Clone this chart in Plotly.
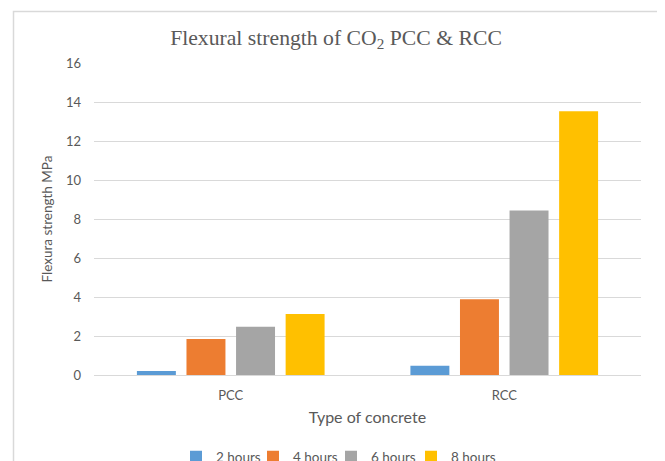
import plotly.graph_objects as go

categories = ["PCC", "RCC"]
series_names = ["2 hours", "4 hours", "6 hours", "8 hours"]
values_2h = [0.21, 0.48]
values_4h = [1.85, 3.89]
values_6h = [2.47, 8.43]
values_8h = [3.13, 13.52]
colors = ["#5B9BD5", "#ED7D31", "#A5A5A5", "#FFC000"]
y_ticks = [0, 2, 4, 6, 8, 10, 12, 14, 16]

# page has an 8px body margin; figure sized to fit the 665x461 window
OFF = 8
W, H = 665 - OFF, 461 - OFF
# plot area in screen pixels: x 94..641, y 63..375
SX0, SX1, SY0, SY1 = 94, 641, 63, 375
L, R, T, B = SX0 - OFF, (W + OFF) - SX1, SY0 - OFF, (H + OFF) - SY1
pw, ph = SX1 - SX0, SY1 - SY0

def px_x(p):
    return (p - SX0) / pw

def px_y(p):
    return (SY1 - p) / ph

font_family = "Lato"
legend_square_px = [190, 267, 345, 425]
legend_ids = ["legend", "legend2", "legend3", "legend4"]

fig = go.Figure()
for name, vals, col, lid in zip(series_names, [values_2h, values_4h, values_6h, values_8h], colors, legend_ids):
    fig.add_trace(go.Bar(x=categories, y=vals, name=name, legend=lid,
                         marker=dict(color=col, line=dict(width=0))))

fig.add_shape(type="rect", xref="paper", yref="paper",
              x0=px_x(13.5), x1=px_x(659.5), y0=px_y(480), y1=px_y(11.5),
              line=dict(color="#D9D9D9", width=1.5), fillcolor="rgba(0,0,0,0)", layer="below")

legend_layout = {}
for lid, sq in zip(legend_ids, legend_square_px):
    legend_layout[lid] = dict(orientation="h", x=px_x(sq - 14), xanchor="left", y=px_y(457), yanchor="middle",
                              font=dict(family=font_family, size=13.5, color="#595959"),
                              itemwidth=30, bgcolor="rgba(0,0,0,0)")

fig.update_layout(
    width=W, height=H,
    margin=dict(l=L, r=R, t=T, b=B, autoexpand=False),
    paper_bgcolor="white", plot_bgcolor="white",
    barmode="group", bargap=0.275, bargroupgap=0.214,
    title=dict(text="Flexural strength of CO<sub>2</sub> PCC &amp; RCC",
               font=dict(family="Liberation Serif", size=21.7, color="#595959"),
               x=(336 - OFF) / W, xanchor="center", y=1 - (37 - OFF) / H, yanchor="middle"),
    xaxis=dict(title=dict(text="Type of concrete", font=dict(family=font_family, size=16, color="#595959"), standoff=10),
               tickfont=dict(family=font_family, size=13, color="#595959"),
               showgrid=False, showline=True, linecolor="#D9D9D9", linewidth=1, ticks="",
               ticklabelstandoff=8, automargin=False),
    yaxis=dict(title=dict(text="Flexura strength MPa", font=dict(family=font_family, size=13.5, color="#595959"), standoff=10),
               tickfont=dict(family=font_family, size=13, color="#595959"),
               range=[0, 16], tickvals=y_ticks, ticktext=[str(v) for v in y_ticks],
               showgrid=True, gridcolor="#D9D9D9", gridwidth=1, zeroline=False, ticks="",
               ticklabelstandoff=12, automargin=False),
    showlegend=True,
    **legend_layout,
)

fig.write_html("out.html")
